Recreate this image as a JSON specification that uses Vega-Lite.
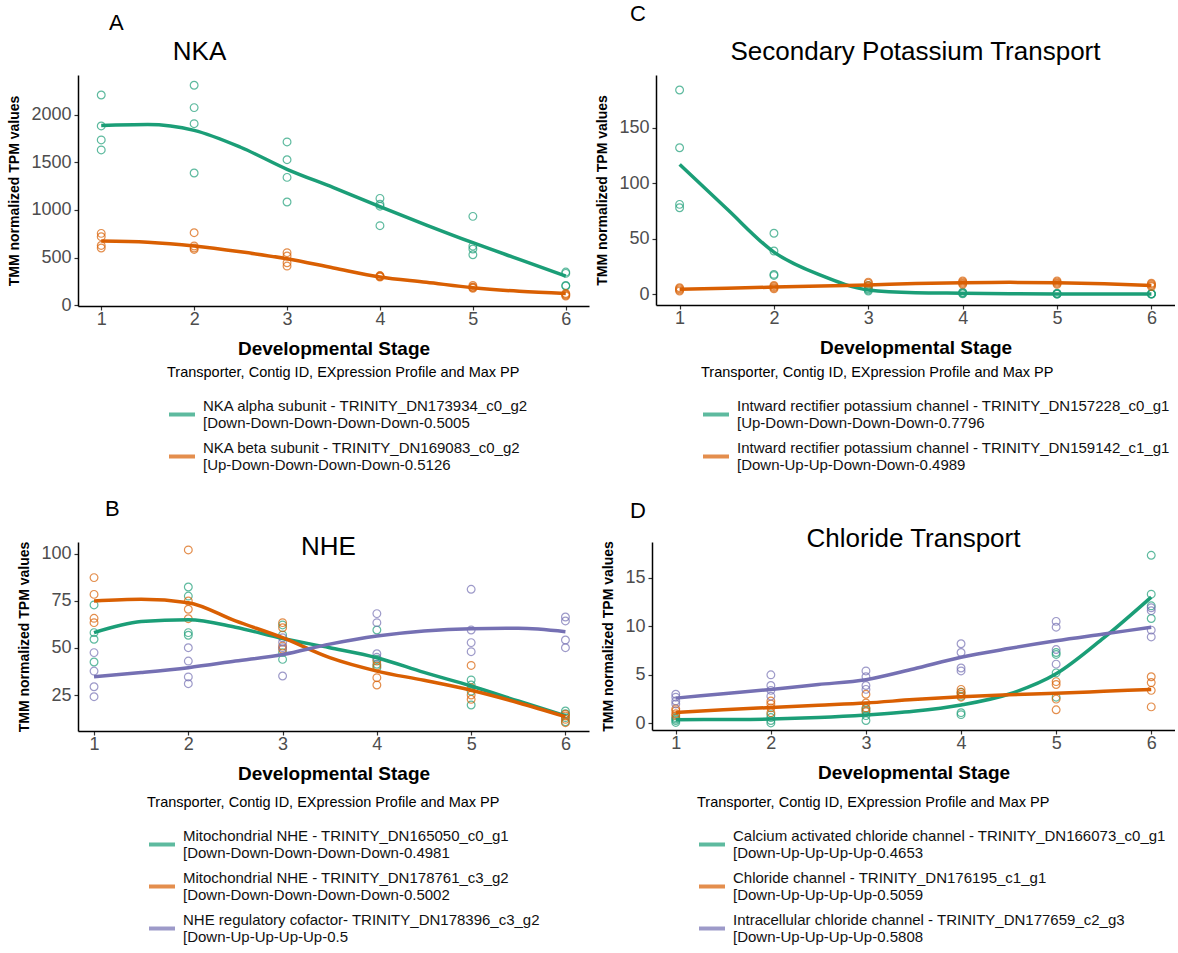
{
  "$schema": "https://vega.github.io/schema/vega-lite/v6.json",
  "padding": {"left": 7, "top": 3, "right": 0, "bottom": 0},
  "background": "white",
  "datasets": {
    "ptsA": [
      {"stage":1,"value":2210,"s":"g"},{"stage":1,"value":1884,"s":"g"},{"stage":1,"value":1737,"s":"g"},{"stage":1,"value":1632,"s":"g"},
      {"stage":2,"value":2312,"s":"g"},{"stage":2,"value":2077,"s":"g"},{"stage":2,"value":1908,"s":"g"},{"stage":2,"value":1389,"s":"g"},
      {"stage":3,"value":1716,"s":"g"},{"stage":3,"value":1529,"s":"g"},{"stage":3,"value":1343,"s":"g"},{"stage":3,"value":1084,"s":"g"},
      {"stage":4,"value":1122,"s":"g"},{"stage":4,"value":1060,"s":"g"},{"stage":4,"value":1040,"s":"g"},{"stage":4,"value":835,"s":"g"},
      {"stage":5,"value":933,"s":"g"},{"stage":5,"value":620,"s":"g"},{"stage":5,"value":590,"s":"g"},{"stage":5,"value":529,"s":"g"},
      {"stage":6,"value":347,"s":"g"},{"stage":6,"value":333,"s":"g"},{"stage":6,"value":206,"s":"g"},{"stage":6,"value":200,"s":"g"},
      {"stage":1,"value":754,"s":"o"},{"stage":1,"value":719,"s":"o"},{"stage":1,"value":627,"s":"o"},{"stage":1,"value":600,"s":"o"},
      {"stage":2,"value":761,"s":"o"},{"stage":2,"value":621,"s":"o"},{"stage":2,"value":600,"s":"o"},{"stage":2,"value":585,"s":"o"},
      {"stage":3,"value":551,"s":"o"},{"stage":3,"value":516,"s":"o"},{"stage":3,"value":445,"s":"o"},{"stage":3,"value":410,"s":"o"},
      {"stage":4,"value":310,"s":"o"},{"stage":4,"value":305,"s":"o"},{"stage":4,"value":300,"s":"o"},{"stage":4,"value":295,"s":"o"},
      {"stage":5,"value":206,"s":"o"},{"stage":5,"value":190,"s":"o"},{"stage":5,"value":184,"s":"o"},{"stage":5,"value":176,"s":"o"},
      {"stage":6,"value":122,"s":"o"},{"stage":6,"value":113,"s":"o"},{"stage":6,"value":105,"s":"o"},{"stage":6,"value":95,"s":"o"}
    ],
    "fitA": [
      {"stage":1,"value":1890,"s":"g"},{"stage":1.5,"value":1900,"s":"g"},{"stage":2,"value":1838,"s":"g"},{"stage":2.5,"value":1660,"s":"g"},
      {"stage":3,"value":1428,"s":"g"},{"stage":3.5,"value":1235,"s":"g"},{"stage":4,"value":1035,"s":"g"},{"stage":4.5,"value":842,"s":"g"},
      {"stage":5,"value":656,"s":"g"},{"stage":5.5,"value":480,"s":"g"},{"stage":6,"value":305,"s":"g"},
      {"stage":1,"value":673,"s":"o"},{"stage":1.5,"value":660,"s":"o"},{"stage":2,"value":621,"s":"o"},{"stage":2.5,"value":560,"s":"o"},
      {"stage":3,"value":487,"s":"o"},{"stage":3.5,"value":390,"s":"o"},{"stage":4,"value":295,"s":"o"},{"stage":4.5,"value":240,"s":"o"},
      {"stage":5,"value":182,"s":"o"},{"stage":5.5,"value":145,"s":"o"},{"stage":6,"value":122,"s":"o"}
    ],
    "ptsC": [
      {"stage":1,"value":184,"s":"g"},{"stage":1,"value":132,"s":"g"},{"stage":1,"value":81,"s":"g"},{"stage":1,"value":78,"s":"g"},
      {"stage":2,"value":55,"s":"g"},{"stage":2,"value":39,"s":"g"},{"stage":2,"value":18,"s":"g"},{"stage":2,"value":17,"s":"g"},
      {"stage":3,"value":8,"s":"g"},{"stage":3,"value":5,"s":"g"},{"stage":3,"value":4,"s":"g"},{"stage":3,"value":3,"s":"g"},
      {"stage":4,"value":2,"s":"g"},{"stage":4,"value":1.5,"s":"g"},{"stage":4,"value":1,"s":"g"},{"stage":4,"value":0.5,"s":"g"},
      {"stage":5,"value":1,"s":"g"},{"stage":5,"value":0.5,"s":"g"},{"stage":5,"value":0.3,"s":"g"},{"stage":5,"value":0.2,"s":"g"},
      {"stage":6,"value":0.5,"s":"g"},{"stage":6,"value":0.4,"s":"g"},{"stage":6,"value":0.3,"s":"g"},{"stage":6,"value":0.2,"s":"g"},
      {"stage":1,"value":6,"s":"o"},{"stage":1,"value":5,"s":"o"},{"stage":1,"value":4,"s":"o"},{"stage":1,"value":3,"s":"o"},
      {"stage":2,"value":8,"s":"o"},{"stage":2,"value":7,"s":"o"},{"stage":2,"value":6,"s":"o"},{"stage":2,"value":5,"s":"o"},
      {"stage":3,"value":11,"s":"o"},{"stage":3,"value":10,"s":"o"},{"stage":3,"value":8,"s":"o"},{"stage":3,"value":7,"s":"o"},
      {"stage":4,"value":12,"s":"o"},{"stage":4,"value":11,"s":"o"},{"stage":4,"value":10,"s":"o"},{"stage":4,"value":9,"s":"o"},
      {"stage":5,"value":12,"s":"o"},{"stage":5,"value":11,"s":"o"},{"stage":5,"value":10,"s":"o"},{"stage":5,"value":9,"s":"o"},
      {"stage":6,"value":10,"s":"o"},{"stage":6,"value":9,"s":"o"},{"stage":6,"value":8,"s":"o"},{"stage":6,"value":7,"s":"o"}
    ],
    "fitC": [
      {"stage":1,"value":117,"s":"g"},{"stage":1.5,"value":77,"s":"g"},{"stage":2,"value":38,"s":"g"},{"stage":2.5,"value":17,"s":"g"},
      {"stage":3,"value":4,"s":"g"},{"stage":3.5,"value":1.5,"s":"g"},{"stage":4,"value":1,"s":"g"},{"stage":4.5,"value":0.5,"s":"g"},
      {"stage":5,"value":0.2,"s":"g"},{"stage":5.5,"value":0.2,"s":"g"},{"stage":6,"value":0.2,"s":"g"},
      {"stage":1,"value":4.5,"s":"o"},{"stage":1.5,"value":5.5,"s":"o"},{"stage":2,"value":6.5,"s":"o"},{"stage":2.5,"value":7.5,"s":"o"},
      {"stage":3,"value":8.5,"s":"o"},{"stage":3.5,"value":9.7,"s":"o"},{"stage":4,"value":10.5,"s":"o"},{"stage":4.5,"value":10.8,"s":"o"},
      {"stage":5,"value":10.5,"s":"o"},{"stage":5.5,"value":9.5,"s":"o"},{"stage":6,"value":8,"s":"o"}
    ],
    "ptsB": [
      {"stage":1,"value":72.8,"s":"g"},{"stage":1,"value":58.1,"s":"g"},{"stage":1,"value":54.6,"s":"g"},{"stage":1,"value":42.5,"s":"g"},
      {"stage":2,"value":82.3,"s":"g"},{"stage":2,"value":77.5,"s":"g"},{"stage":2,"value":58.1,"s":"g"},{"stage":2,"value":56.7,"s":"g"},
      {"stage":3,"value":62.2,"s":"g"},{"stage":3,"value":56.9,"s":"g"},{"stage":3,"value":47.5,"s":"g"},{"stage":3,"value":43.9,"s":"g"},
      {"stage":4,"value":59.5,"s":"g"},{"stage":4,"value":44,"s":"g"},{"stage":4,"value":41.3,"s":"g"},{"stage":4,"value":39.5,"s":"g"},
      {"stage":5,"value":33,"s":"g"},{"stage":5,"value":30.3,"s":"g"},{"stage":5,"value":27,"s":"g"},{"stage":5,"value":19.7,"s":"g"},
      {"stage":6,"value":16.5,"s":"g"},{"stage":6,"value":15.1,"s":"g"},{"stage":6,"value":13,"s":"g"},{"stage":6,"value":10.8,"s":"g"},
      {"stage":1,"value":87.3,"s":"o"},{"stage":1,"value":78.4,"s":"o"},{"stage":1,"value":65.7,"s":"o"},{"stage":1,"value":63.4,"s":"o"},
      {"stage":2,"value":102,"s":"o"},{"stage":2,"value":74.9,"s":"o"},{"stage":2,"value":70.5,"s":"o"},{"stage":2,"value":65.5,"s":"o"},
      {"stage":3,"value":63.4,"s":"o"},{"stage":3,"value":60.7,"s":"o"},{"stage":3,"value":51,"s":"o"},{"stage":3,"value":49.3,"s":"o"},
      {"stage":4,"value":43,"s":"o"},{"stage":4,"value":40.4,"s":"o"},{"stage":4,"value":34.2,"s":"o"},{"stage":4,"value":30.3,"s":"o"},
      {"stage":5,"value":40.7,"s":"o"},{"stage":5,"value":28.9,"s":"o"},{"stage":5,"value":25,"s":"o"},{"stage":5,"value":22.7,"s":"o"},
      {"stage":6,"value":14.8,"s":"o"},{"stage":6,"value":13.9,"s":"o"},{"stage":6,"value":12.1,"s":"o"},{"stage":6,"value":10.3,"s":"o"},
      {"stage":1,"value":47.5,"s":"p"},{"stage":1,"value":37.7,"s":"p"},{"stage":1,"value":29.4,"s":"p"},{"stage":1,"value":24.1,"s":"p"},
      {"stage":2,"value":50.1,"s":"p"},{"stage":2,"value":43,"s":"p"},{"stage":2,"value":34.6,"s":"p"},{"stage":2,"value":31,"s":"p"},
      {"stage":3,"value":55.4,"s":"p"},{"stage":3,"value":53,"s":"p"},{"stage":3,"value":50.1,"s":"p"},{"stage":3,"value":35.1,"s":"p"},
      {"stage":4,"value":68.2,"s":"p"},{"stage":4,"value":63.4,"s":"p"},{"stage":4,"value":46.9,"s":"p"},{"stage":4,"value":45,"s":"p"},
      {"stage":5,"value":81.1,"s":"p"},{"stage":5,"value":59.5,"s":"p"},{"stage":5,"value":52.8,"s":"p"},{"stage":5,"value":48,"s":"p"},
      {"stage":6,"value":66.4,"s":"p"},{"stage":6,"value":64.3,"s":"p"},{"stage":6,"value":54.2,"s":"p"},{"stage":6,"value":50.1,"s":"p"}
    ],
    "fitB": [
      {"stage":1,"value":58.1,"s":"g"},{"stage":1.5,"value":64,"s":"g"},{"stage":2,"value":65,"s":"g"},{"stage":2.5,"value":61,"s":"g"},
      {"stage":3,"value":55,"s":"g"},{"stage":3.5,"value":50.1,"s":"g"},{"stage":4,"value":44.8,"s":"g"},{"stage":4.5,"value":37,"s":"g"},
      {"stage":5,"value":29.8,"s":"g"},{"stage":5.5,"value":21.8,"s":"g"},{"stage":6,"value":13.9,"s":"g"},
      {"stage":1,"value":74.9,"s":"o"},{"stage":1.5,"value":75.8,"s":"o"},{"stage":2,"value":74,"s":"o"},{"stage":2.5,"value":64.3,"s":"o"},
      {"stage":3,"value":55.4,"s":"o"},{"stage":3.5,"value":44.8,"s":"o"},{"stage":4,"value":37.7,"s":"o"},{"stage":4.5,"value":32.8,"s":"o"},
      {"stage":5,"value":27.5,"s":"o"},{"stage":5.5,"value":20.9,"s":"o"},{"stage":6,"value":13.5,"s":"o"},
      {"stage":1,"value":34.7,"s":"p"},{"stage":1.5,"value":36.9,"s":"p"},{"stage":2,"value":39.5,"s":"p"},{"stage":2.5,"value":43,"s":"p"},
      {"stage":3,"value":46.5,"s":"p"},{"stage":3.5,"value":52,"s":"p"},{"stage":4,"value":56.3,"s":"p"},{"stage":4.5,"value":59,"s":"p"},
      {"stage":5,"value":60.2,"s":"p"},{"stage":5.5,"value":60.4,"s":"p"},{"stage":6,"value":58.6,"s":"p"}
    ],
    "ptsD": [
      {"stage":1,"value":0.6,"s":"g"},{"stage":1,"value":0.45,"s":"g"},{"stage":1,"value":0.3,"s":"g"},{"stage":1,"value":0.1,"s":"g"},
      {"stage":2,"value":0.9,"s":"g"},{"stage":2,"value":0.6,"s":"g"},{"stage":2,"value":0.3,"s":"g"},{"stage":2,"value":0.05,"s":"g"},
      {"stage":3,"value":1.5,"s":"g"},{"stage":3,"value":1.3,"s":"g"},{"stage":3,"value":0.8,"s":"g"},{"stage":3,"value":0.3,"s":"g"},
      {"stage":4,"value":3.2,"s":"g"},{"stage":4,"value":2.8,"s":"g"},{"stage":4,"value":1.1,"s":"g"},{"stage":4,"value":0.9,"s":"g"},
      {"stage":5,"value":7.3,"s":"g"},{"stage":5,"value":7.1,"s":"g"},{"stage":5,"value":5.2,"s":"g"},{"stage":5,"value":2.7,"s":"g"},
      {"stage":6,"value":17.3,"s":"g"},{"stage":6,"value":13.3,"s":"g"},{"stage":6,"value":12.1,"s":"g"},{"stage":6,"value":10.8,"s":"g"},
      {"stage":1,"value":1.5,"s":"o"},{"stage":1,"value":1.3,"s":"o"},{"stage":1,"value":1.0,"s":"o"},{"stage":1,"value":0.8,"s":"o"},
      {"stage":2,"value":2.3,"s":"o"},{"stage":2,"value":2.0,"s":"o"},{"stage":2,"value":1.6,"s":"o"},{"stage":2,"value":1.1,"s":"o"},
      {"stage":3,"value":3.0,"s":"o"},{"stage":3,"value":2.1,"s":"o"},{"stage":3,"value":1.6,"s":"o"},{"stage":3,"value":1.2,"s":"o"},
      {"stage":4,"value":3.5,"s":"o"},{"stage":4,"value":3.2,"s":"o"},{"stage":4,"value":3.0,"s":"o"},{"stage":4,"value":2.7,"s":"o"},
      {"stage":5,"value":4.3,"s":"o"},{"stage":5,"value":4.0,"s":"o"},{"stage":5,"value":2.5,"s":"o"},{"stage":5,"value":1.4,"s":"o"},
      {"stage":6,"value":4.8,"s":"o"},{"stage":6,"value":4.2,"s":"o"},{"stage":6,"value":3.4,"s":"o"},{"stage":6,"value":1.7,"s":"o"},
      {"stage":1,"value":3.0,"s":"p"},{"stage":1,"value":2.7,"s":"p"},{"stage":1,"value":2.3,"s":"p"},{"stage":1,"value":2.0,"s":"p"},
      {"stage":2,"value":5.0,"s":"p"},{"stage":2,"value":3.9,"s":"p"},{"stage":2,"value":3.4,"s":"p"},{"stage":2,"value":2.8,"s":"p"},
      {"stage":3,"value":5.4,"s":"p"},{"stage":3,"value":4.8,"s":"p"},{"stage":3,"value":3.9,"s":"p"},{"stage":3,"value":3.5,"s":"p"},
      {"stage":4,"value":8.2,"s":"p"},{"stage":4,"value":7.3,"s":"p"},{"stage":4,"value":5.7,"s":"p"},{"stage":4,"value":5.4,"s":"p"},
      {"stage":5,"value":10.5,"s":"p"},{"stage":5,"value":9.9,"s":"p"},{"stage":5,"value":7.6,"s":"p"},{"stage":5,"value":6.1,"s":"p"},
      {"stage":6,"value":11.9,"s":"p"},{"stage":6,"value":11.6,"s":"p"},{"stage":6,"value":9.6,"s":"p"},{"stage":6,"value":8.9,"s":"p"}
    ],
    "fitD": [
      {"stage":1,"value":0.38,"s":"g"},{"stage":1.5,"value":0.4,"s":"g"},{"stage":2,"value":0.45,"s":"g"},{"stage":2.5,"value":0.6,"s":"g"},
      {"stage":3,"value":0.86,"s":"g"},{"stage":3.5,"value":1.25,"s":"g"},{"stage":4,"value":1.9,"s":"g"},{"stage":4.5,"value":3.0,"s":"g"},
      {"stage":5,"value":5.1,"s":"g"},{"stage":5.5,"value":8.8,"s":"g"},{"stage":6,"value":13.0,"s":"g"},
      {"stage":1,"value":1.13,"s":"o"},{"stage":1.5,"value":1.4,"s":"o"},{"stage":2,"value":1.64,"s":"o"},{"stage":2.5,"value":1.87,"s":"o"},
      {"stage":3,"value":2.1,"s":"o"},{"stage":3.5,"value":2.45,"s":"o"},{"stage":4,"value":2.74,"s":"o"},{"stage":4.5,"value":2.95,"s":"o"},
      {"stage":5,"value":3.1,"s":"o"},{"stage":5.5,"value":3.3,"s":"o"},{"stage":6,"value":3.5,"s":"o"},
      {"stage":1,"value":2.6,"s":"p"},{"stage":1.5,"value":3.05,"s":"p"},{"stage":2,"value":3.5,"s":"p"},{"stage":2.5,"value":4.0,"s":"p"},
      {"stage":3,"value":4.5,"s":"p"},{"stage":3.5,"value":5.6,"s":"p"},{"stage":4,"value":6.8,"s":"p"},{"stage":4.5,"value":7.7,"s":"p"},
      {"stage":5,"value":8.5,"s":"p"},{"stage":5.5,"value":9.2,"s":"p"},{"stage":6,"value":9.9,"s":"p"}
    ]
  },
  "resolve": {"scale": {"color": "independent"}, "legend": {"color": "independent"}},
  "align": "none",
  "spacing": 25,
  "vconcat": [
    {
      "resolve": {"scale": {"color": "independent"}, "legend": {"color": "independent"}},
      "spacing": 6,
      "hconcat": [
        {
          "title": {"text": "A", "anchor": "start", "dx": 101, "fontSize": 22, "offset": 4},
          "resolve": {"scale": {"color": "independent"}, "legend": {"color": "independent"}},
          "vconcat": [
            {
              "title": {"text": "NKA", "dx": -134, "offset": 10},
              "width": 511, "height": 231,
              "encoding": {
                "x": {"field": "stage", "type": "quantitative", "scale": {"domain": [0.75, 6.25], "nice": false, "zero": false}, "axis": {"values": [1,2,3,4,5,6], "format": "d", "title": "Developmental Stage"}},
                "y": {"field": "value", "type": "quantitative", "scale": {"domain": [-10, 2420], "nice": false, "zero": false}, "axis": {"values": [0,500,1000,1500,2000], "format": "d", "title": "TMM normalized TPM values"}},
                "color": {"field": "s", "type": "nominal", "scale": {"domain": ["g","o"], "range": ["#1B9E77","#D95F02"]},
                  "legend": {"title": "Transporter, Contig ID, EXpression Profile and Max PP", "legendX": 89, "legendY": 291,
                    "labelExpr": "datum.value == 'g' ? ['NKA alpha subunit - TRINITY_DN173934_c0_g2', '[Down-Down-Down-Down-Down-0.5005'] : ['NKA beta subunit - TRINITY_DN169083_c0_g2', '[Up-Down-Down-Down-Down-0.5126']"}}
              },
              "layer": [
                {"data": {"name": "ptsA"}, "mark": {"type": "point", "filled": false, "size": 60, "strokeWidth": 1.2, "opacity": 0.7}},
                {"data": {"name": "fitA"}, "mark": {"type": "line", "interpolate": "monotone", "strokeWidth": 3.5}}
              ]
            }
          ]
        },
        {
          "title": {"text": "C", "anchor": "start", "dx": 34, "fontSize": 22, "offset": 13},
          "resolve": {"scale": {"color": "independent"}, "legend": {"color": "independent"}},
          "vconcat": [
            {
              "title": {"text": "Secondary Potassium Transport", "offset": 10},
              "width": 519, "height": 230,
              "encoding": {
                "x": {"field": "stage", "type": "quantitative", "scale": {"domain": [0.75, 6.25], "nice": false, "zero": false}, "axis": {"values": [1,2,3,4,5,6], "format": "d", "title": "Developmental Stage"}},
                "y": {"field": "value", "type": "quantitative", "scale": {"domain": [-9.6, 197.5], "nice": false, "zero": false}, "axis": {"values": [0,50,100,150], "format": "d", "title": "TMM normalized TPM values"}},
                "color": {"field": "s", "type": "nominal", "scale": {"domain": ["g","o"], "range": ["#1B9E77","#D95F02"]},
                  "legend": {"title": "Transporter, Contig ID, EXpression Profile and Max PP", "legendX": 45, "legendY": 291,
                    "labelExpr": "datum.value == 'g' ? ['Intward rectifier potassium channel - TRINITY_DN157228_c0_g1', '[Up-Down-Down-Down-Down-0.7796'] : ['Intward rectifier potassium channel - TRINITY_DN159142_c1_g1', '[Down-Up-Up-Down-Down-0.4989']"}}
              },
              "layer": [
                {"data": {"name": "ptsC"}, "mark": {"type": "point", "filled": false, "size": 60, "strokeWidth": 1.2, "opacity": 0.7}},
                {"data": {"name": "fitC"}, "mark": {"type": "line", "interpolate": "monotone", "strokeWidth": 3.5}}
              ]
            }
          ]
        }
      ]
    },
    {
      "resolve": {"scale": {"color": "independent"}, "legend": {"color": "independent"}},
      "spacing": 12,
      "hconcat": [
        {
          "title": {"text": "B", "anchor": "start", "dx": 87, "fontSize": 22, "offset": 13},
          "resolve": {"scale": {"color": "independent"}, "legend": {"color": "independent"}},
          "vconcat": [
            {
              "title": {"text": "NHE", "dx": -5, "offset": -19},
              "width": 511, "height": 189,
              "encoding": {
                "x": {"field": "stage", "type": "quantitative", "scale": {"domain": [0.83, 6.25], "nice": false, "zero": false}, "axis": {"values": [1,2,3,4,5,6], "format": "d", "title": "Developmental Stage"}},
                "y": {"field": "value", "type": "quantitative", "scale": {"domain": [5.9, 106.2], "nice": false, "zero": false}, "axis": {"values": [25,50,75,100], "format": "d", "title": "TMM normalized TPM values"}},
                "color": {"field": "s", "type": "nominal", "scale": {"domain": ["g","o","p"], "range": ["#1B9E77","#D95F02","#7570B3"]},
                  "legend": {"title": "Transporter, Contig ID, EXpression Profile and Max PP", "legendX": 69, "legendY": 254,
                    "labelExpr": "datum.value == 'g' ? ['Mitochondrial NHE - TRINITY_DN165050_c0_g1', '[Down-Down-Down-Down-Down-0.4981'] : datum.value == 'o' ? ['Mitochondrial NHE - TRINITY_DN178761_c3_g2', '[Down-Down-Down-Down-Down-0.5002'] : ['NHE regulatory cofactor- TRINITY_DN178396_c3_g2', '[Down-Up-Up-Up-Up-0.5']"}}
              },
              "layer": [
                {"data": {"name": "ptsB"}, "mark": {"type": "point", "filled": false, "size": 60, "strokeWidth": 1.2, "opacity": 0.7}},
                {"data": {"name": "fitB"}, "mark": {"type": "line", "interpolate": "monotone", "strokeWidth": 3.5}}
              ]
            }
          ]
        },
        {
          "title": {"text": "D", "anchor": "start", "dx": 28, "fontSize": 22, "offset": 3},
          "resolve": {"scale": {"color": "independent"}, "legend": {"color": "independent"}},
          "vconcat": [
            {
              "title": {"text": "Chloride Transport", "offset": -11},
              "width": 523, "height": 188,
              "encoding": {
                "x": {"field": "stage", "type": "quantitative", "scale": {"domain": [0.75, 6.25], "nice": false, "zero": false}, "axis": {"values": [1,2,3,4,5,6], "format": "d", "title": "Developmental Stage"}},
                "y": {"field": "value", "type": "quantitative", "scale": {"domain": [-0.68, 18.67], "nice": false, "zero": false}, "axis": {"values": [0,5,10,15], "format": "d", "title": "TMM normalized TPM values"}},
                "color": {"field": "s", "type": "nominal", "scale": {"domain": ["g","o","p"], "range": ["#1B9E77","#D95F02","#7570B3"]},
                  "legend": {"title": "Transporter, Contig ID, EXpression Profile and Max PP", "legendX": 45, "legendY": 254,
                    "labelExpr": "datum.value == 'g' ? ['Calcium activated chloride channel - TRINITY_DN166073_c0_g1', '[Down-Up-Up-Up-Up-0.4653'] : datum.value == 'o' ? ['Chloride channel - TRINITY_DN176195_c1_g1', '[Down-Up-Up-Up-Up-0.5059'] : ['Intracellular chloride channel - TRINITY_DN177659_c2_g3', '[Down-Up-Up-Up-Up-0.5808']"}}
              },
              "layer": [
                {"data": {"name": "ptsD"}, "mark": {"type": "point", "filled": false, "size": 60, "strokeWidth": 1.2, "opacity": 0.7}},
                {"data": {"name": "fitD"}, "mark": {"type": "line", "interpolate": "monotone", "strokeWidth": 3.5}}
              ]
            }
          ]
        }
      ]
    }
  ],
  "config": {
    "font": "Liberation Sans",
    "view": {"stroke": null},
    "axis": {"grid": false, "domainColor": "#000000", "domainWidth": 1.5, "tickColor": "#333333", "tickWidth": 1.2, "tickSize": 4, "labelFontSize": 18, "labelColor": "#4D4D4D", "labelPadding": 3, "titleFontWeight": "bold", "titleColor": "#000000", "labelFont": "Liberation Sans", "titleFont": "Liberation Sans"},
    "axisX": {"titleFontSize": 19, "titlePadding": 11, "labelPadding": 0},
    "axisY": {"titleFontSize": 14, "titlePadding": 9},
    "title": {"fontSize": 26, "fontWeight": "normal", "color": "#000000", "font": "Liberation Sans"},
    "legend": {"orient": "none", "titleFontSize": 14.5, "titleFontWeight": "normal", "titleColor": "#000000", "titleFont": "Liberation Sans", "titleLimit": 1000, "labelFont": "Liberation Sans", "labelFontSize": 15, "labelColor": "#111111", "labelBaseline": "line-bottom", "symbolType": "stroke", "symbolSize": 676, "symbolStrokeWidth": 4, "labelOffset": 6, "rowPadding": 10, "titlePadding": 19, "labelLimit": 700}
  }
}
